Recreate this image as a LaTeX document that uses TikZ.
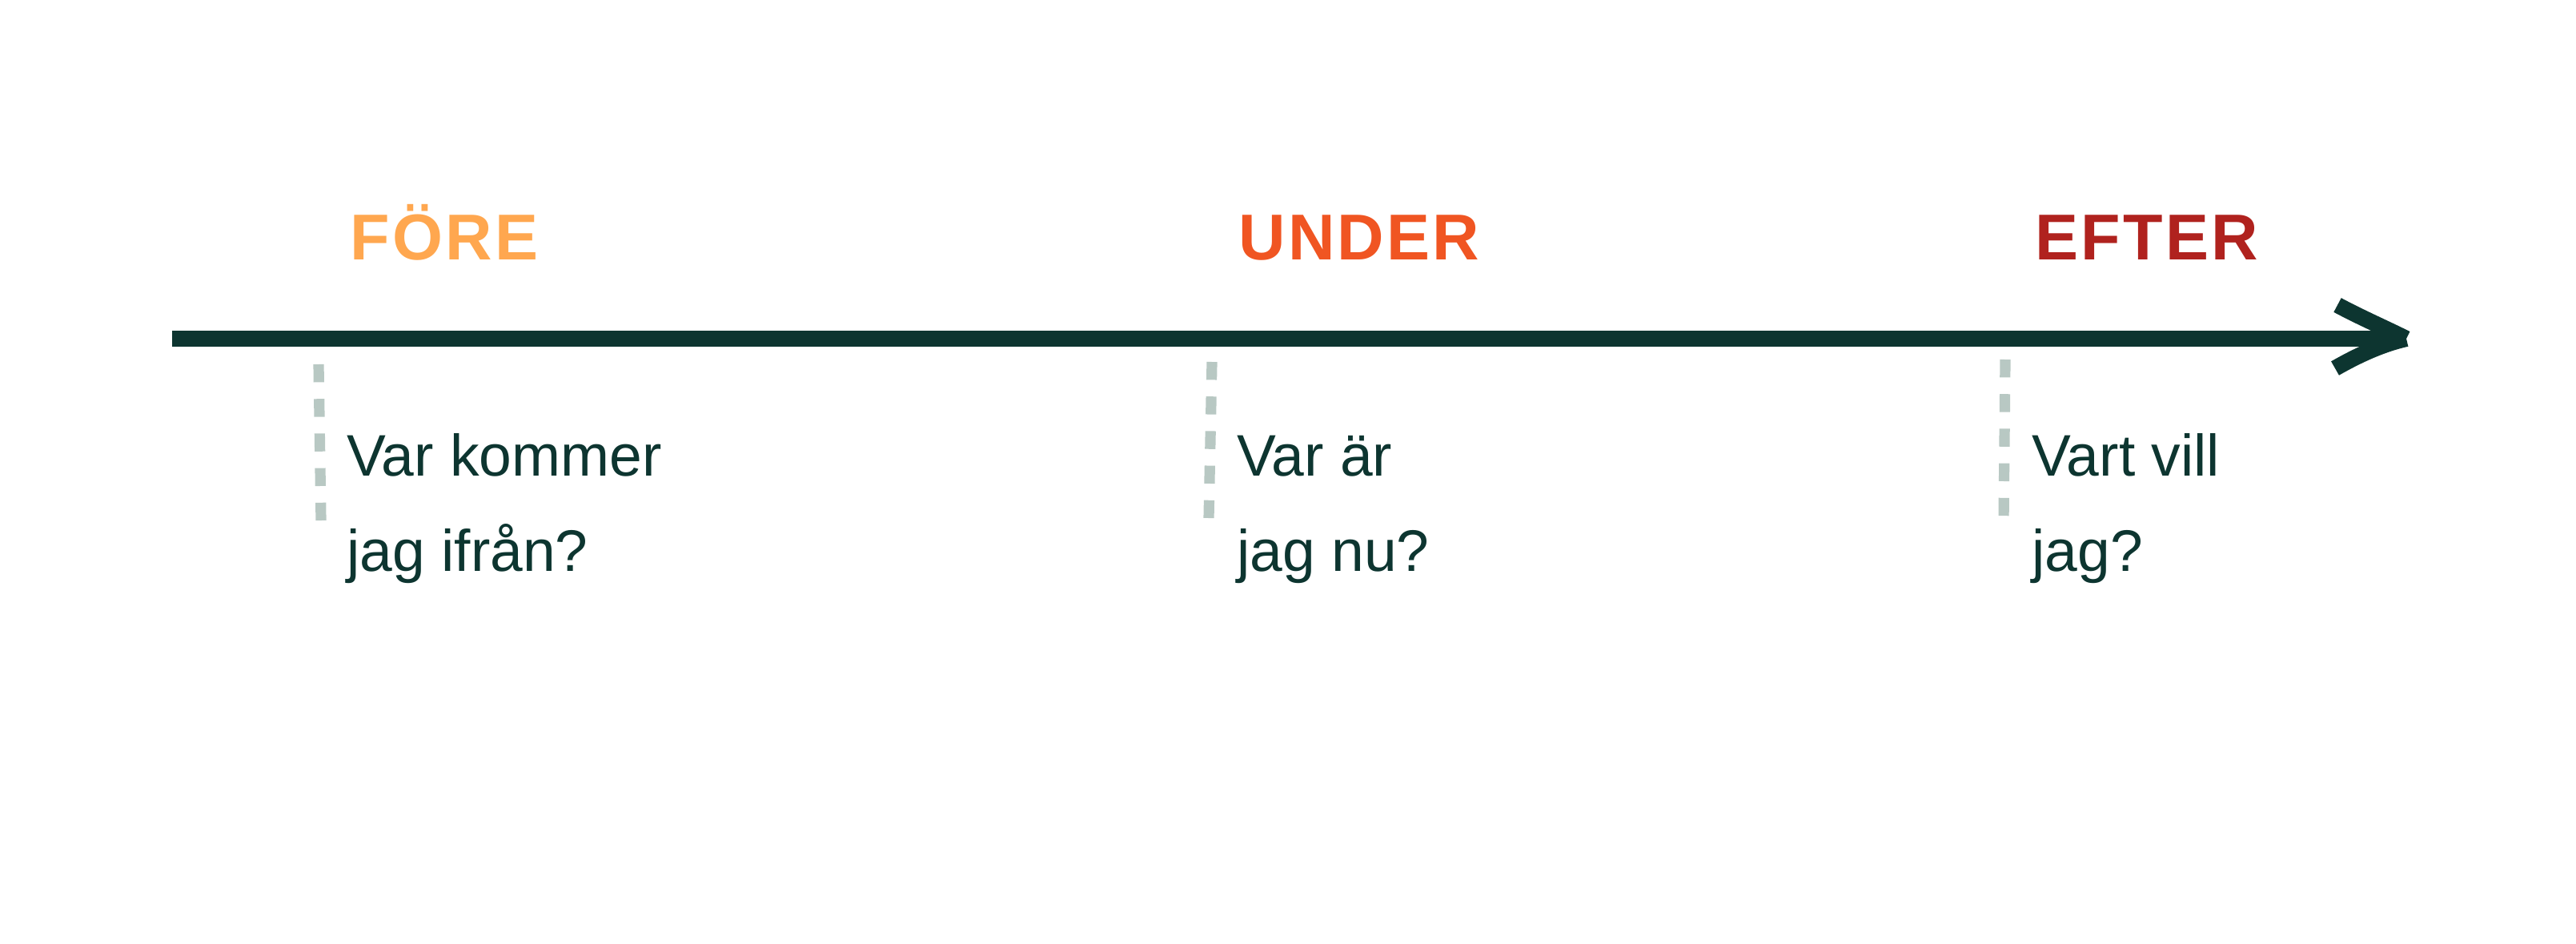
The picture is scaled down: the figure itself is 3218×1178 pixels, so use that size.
\documentclass[tikz,border=0pt]{standalone}
\usepackage{fontspec}
\setmainfont{Liberation Sans}
\newfontfamily\headfont{Liberation Sans}[LetterSpace=4]
\definecolor{darkteal}{HTML}{0D3530}
\definecolor{foreorange}{HTML}{FFA74F}
\definecolor{underorange}{HTML}{F05522}
\definecolor{efterred}{HTML}{B0221E}
\definecolor{dashgrey}{HTML}{B8C8C3}
\tikzset{every picture/.style={line width=0.75pt}}
\tikzset{
  phase/.style={anchor=base west,inner sep=0pt,font=\headfont\bfseries\fontsize{20.25}{24}\selectfont},
  question/.style={anchor=base west,inner sep=0pt,align=left,text=darkteal,font=\fontsize{18.3}{29.75}\selectfont},
  tick/.style={draw=dashgrey,line width=3.3pt,dash pattern={on 5.6pt off 5.2pt}},
  timeline/.style={draw=darkteal,line width=4.9pt},
  barb/.style={draw=darkteal,line width=5pt}
}

\begin{document}
\begin{tikzpicture}[x=0.25pt,y=0.25pt,yscale=-1,xscale=1]
\useasboundingbox (0,0) rectangle (3218,1178);

%Straight Lines
\coordinate (start) at (215,423);
\coordinate (tip) at (3006,423);
\draw [timeline] (start) -- (tip);
%Curve Lines
\draw [barb] (2920,381) .. controls (2950,397) and (2980,410) .. (tip);
\draw [barb] (2917,460) .. controls (2945,444) and (2975,430) .. (tip);

% Text Node
\node [phase,text=foreorange] (fore) at (436,324) {FÖRE};
% Text Node
\node [phase,text=underorange] (under) at (1546,324) {UNDER};
% Text Node
\node [phase,text=efterred] (efter) at (2541,324) {EFTER};

%Dashed Lines
\draw [tick] (398,455) -- (401,650);
\draw [tick] (1514,452) -- (1510,647);
\draw [tick] (2505,449) -- (2503,650);

% Text Node
\node [question] (qfore) at (432,713) {Var kommer\\jag ifrån?};
% Text Node
\node [question] (qunder) at (1544,713) {Var är\\jag nu?};
% Text Node
\node [question] (qefter) at (2537,713) {Vart vill\\jag?};

\end{tikzpicture}
\end{document}
